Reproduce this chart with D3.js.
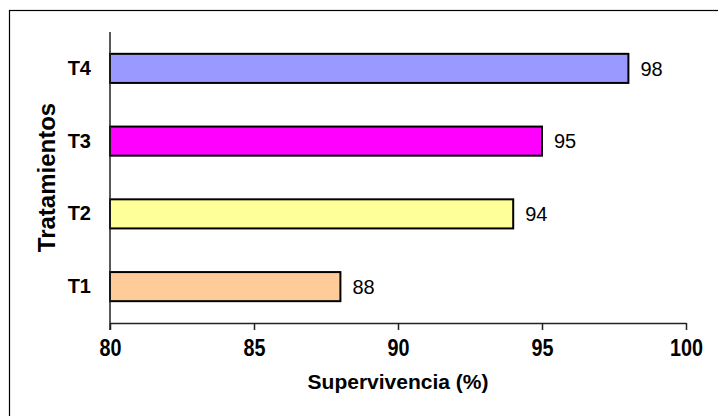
<!DOCTYPE html>
<html>
<head>
<meta charset="utf-8">
<script src="https://cdn.jsdelivr.net/npm/d3@7"></script>
<style>
  body { margin: 0; background: #fff; }
  svg text { font-family: "Liberation Sans", Arial, sans-serif; fill: #000; }
</style>
</head>
<body>
<script>
// datos
var categorias = ["T1", "T2", "T3", "T4"];
var supervivencia = [88, 94, 95, 98];
var colores = ["#FFCC99", "#FFFF99", "#FF00FF", "#9999FF"];
var ticksX = [80, 85, 90, 95, 100];

var w = 718, h = 416;
var m = {top: 32, right: 32, bottom: 93, left: 110};

var svg = d3.select("body").append("svg")
    .attr("width", w)
    .attr("height", h);

svg.append("rect")
    .attr("width", w).attr("height", h)
    .attr("fill", "#fff");

// marco exterior (solo se ve arriba e izquierda)
svg.append("rect")
    .attr("x", 9.5).attr("y", 10.5)
    .attr("width", 730).attr("height", 430)
    .attr("fill", "none")
    .attr("stroke", "#000")
    .attr("stroke-width", 1.2);

var x = d3.scaleLinear()
    .domain([80, 100])
    .range([m.left, w - m.right]);

var y = d3.scaleBand()
    .domain(categorias.slice().reverse())
    .range([m.top, h - m.bottom])
    .paddingInner(0.6)
    .paddingOuter(0.3);

// barras
svg.selectAll("rect.barra")
    .data(categorias)
    .enter()
    .append("rect")
    .attr("class", "barra")
    .attr("x", x(80))
    .attr("y", function(d){ return y(d); })
    .attr("width", function(d, i){ return x(supervivencia[i]) - x(80); })
    .attr("height", y.bandwidth())
    .attr("fill", function(d, i){ return colores[i]; })
    .attr("stroke", "#000")
    .attr("stroke-width", 2);

// etiquetas de valor
svg.selectAll("text.valor")
    .data(categorias)
    .enter()
    .append("text")
    .attr("class", "valor")
    .attr("x", function(d, i){ return x(supervivencia[i]) + 12; })
    .attr("y", function(d){ return y(d) + y.bandwidth() / 2; })
    .attr("dy", "0.36em")
    .style("font-size", "20px")
    .text(function(d, i){ return supervivencia[i]; });

// eje X
var ejeX = svg.append("g")
    .attr("transform", "translate(0," + (h - m.bottom) + ")")
    .call(d3.axisBottom(x).tickValues(ticksX).tickSize(7).tickSizeOuter(0).tickPadding(10));
ejeX.select(".domain").attr("stroke", "#222").attr("stroke-width", 1.5);
ejeX.selectAll(".tick line").attr("stroke", "#222").attr("stroke-width", 1.5);
ejeX.selectAll(".tick text")
    .style("font-size", "23px")
    .style("font-weight", "bold")
    .attr("transform", "scale(0.86,1)")
    .attr("fill", "#000");

// eje Y
var ejeY = svg.append("g")
    .attr("transform", "translate(" + m.left + ",0)")
    .call(d3.axisLeft(y).tickSize(0).tickPadding(19));
ejeY.select(".domain").attr("stroke", "#222").attr("stroke-width", 1.5)
    .attr("d", "M0," + m.top + "V" + (h - m.bottom + 7));
ejeY.selectAll(".tick text")
    .style("font-size", "20px")
    .style("font-weight", "bold")
    .attr("fill", "#000");

// títulos
svg.append("text")
    .attr("x", (x(80) + x(100)) / 2)
    .attr("y", 389)
    .attr("text-anchor", "middle")
    .style("font-size", "21px")
    .style("font-weight", "bold")
    .text("Supervivencia (%)");

svg.append("text")
    .attr("transform", "translate(55," + ((m.top + h - m.bottom) / 2) + ") rotate(-90)")
    .attr("text-anchor", "middle")
    .style("font-size", "24px")
    .style("font-weight", "bold")
    .text("Tratamientos");
</script>
</body>
</html>
